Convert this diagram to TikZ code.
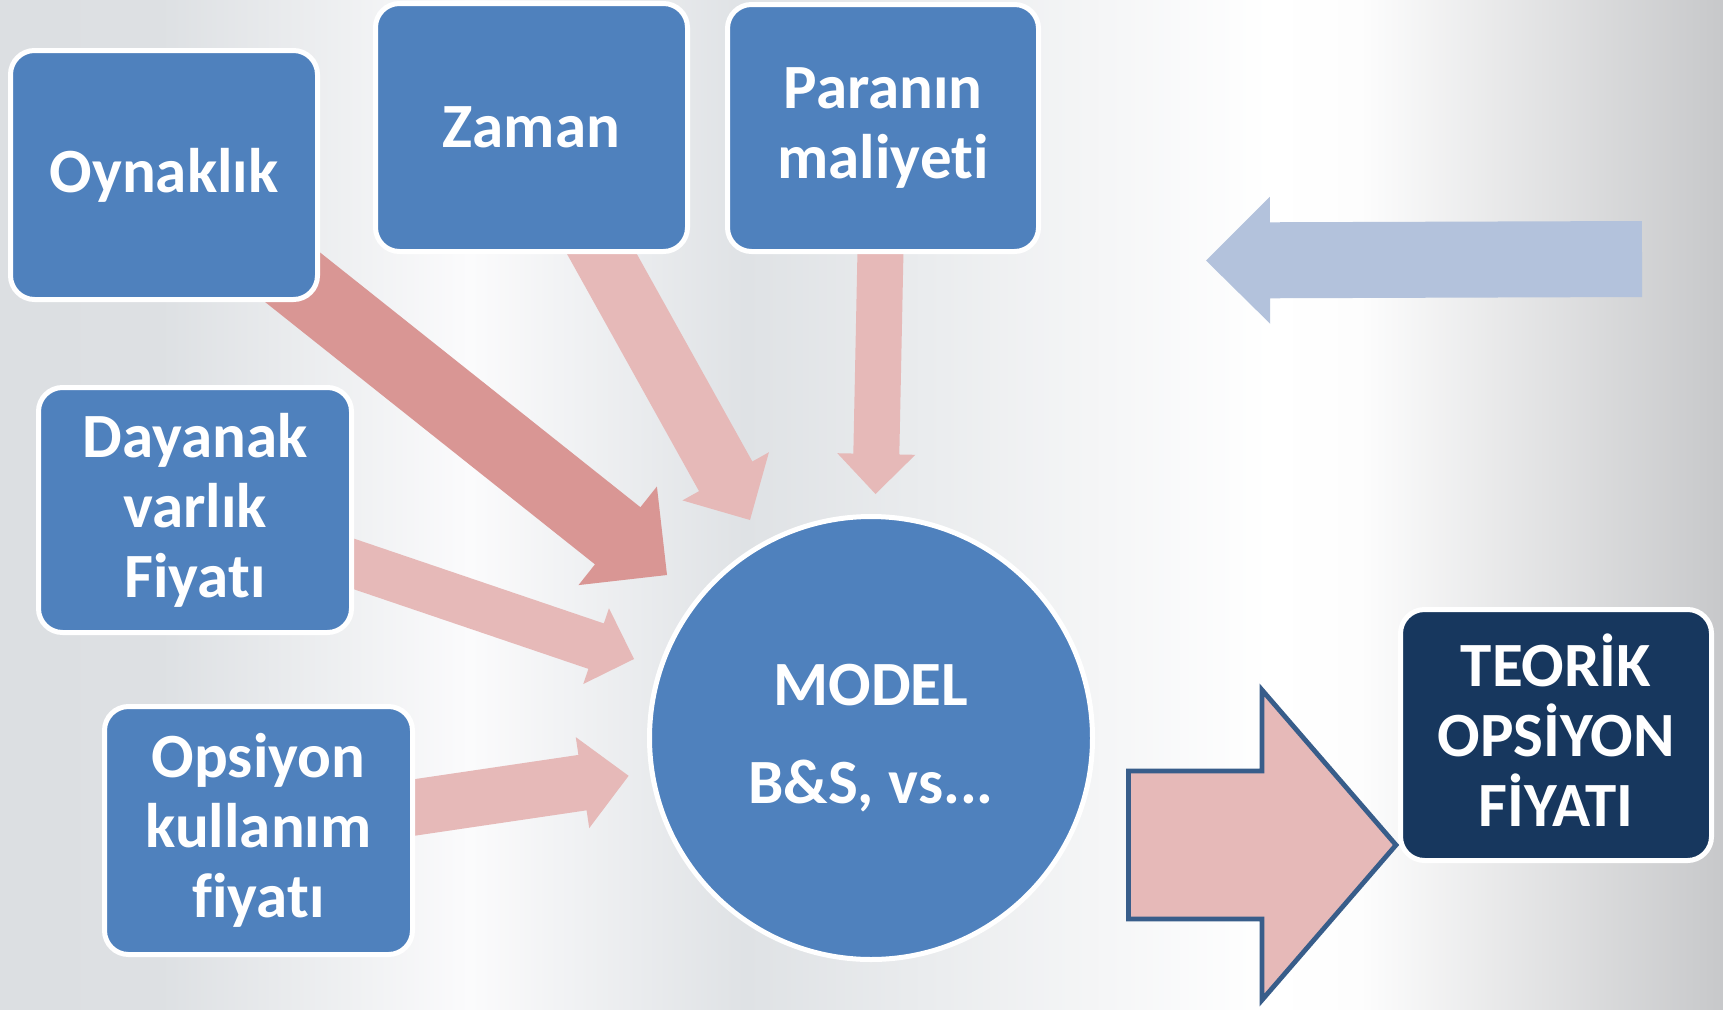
\documentclass[tikz,border=0pt]{standalone}
\usepackage{fontspec}
\setmainfont{Carlito}[Ligatures={NoCommon}]
\usetikzlibrary{calc}
\definecolor{boxblue}{HTML}{4F81BD}
\definecolor{navy}{HTML}{17375E}
\definecolor{pinkd}{HTML}{D99694}
\definecolor{pinkl}{HTML}{E6B9B8}
\definecolor{bluea}{HTML}{B3C2DC}
\definecolor{arrowline}{HTML}{385D8A}
\definecolor{bga}{HTML}{DCDFE2}
\definecolor{bgb}{HTML}{DDE0E3}
\definecolor{bgc}{HTML}{FBFBFC}
\definecolor{bgd}{HTML}{DFE2E5}
\definecolor{bge}{HTML}{FFFFFF}
\definecolor{bgf}{HTML}{FDFDFD}
\definecolor{bgg}{HTML}{C7C8CA}
\pgfdeclarehorizontalshading{bgshade}{100bp}{color(0bp)=(bga); color(25bp)=(bga); color(29.64bp)=(bgb); color(38.64bp)=(bgc); color(46.62bp)=(bgd); color(61.85bp)=(bge); color(64.47bp)=(bgf); color(75bp)=(bgg); color(100bp)=(bgg)}
\pgfdeclarelayer{back}
\pgfdeclarelayer{arrows}
\pgfsetlayers{back,arrows,main}
\newcommand\blockarrow[6]{%
  \coordinate (ba-h) at ($(#2)!#5!(#1)$);
  \path[#6] ($(#1)!#3!90:(#2)$) -- ($(ba-h)!#3!90:(#2)$) -- ($(ba-h)!#4!90:(#2)$) -- (#2)
    -- ($(ba-h)!#4!-90:(#2)$) -- ($(ba-h)!#3!-90:(#2)$) -- ($(#1)!#3!-90:(#2)$) -- cycle;
}
\tikzset{
  box/.style={rectangle, rounded corners=24pt, fill=boxblue, draw=white, line width=5pt,
    text=white, align=center, inner sep=0pt,
    font=\bfseries\fontsize{63}{70}\selectfont},
  modelc/.style={circle, fill=boxblue, draw=white, line width=5pt, text=white,
    align=center, inner sep=0pt, minimum size=443pt,
    font=\bfseries\fontsize{63}{98}\selectfont},
  darkarrow/.style={fill=pinkd},
  lightarrow/.style={fill=pinkl},
  bluearrow/.style={fill=bluea},
  bigarrow/.style={fill=pinkl, draw=arrowline, line width=4.8pt, line join=miter}
}
\begin{document}
\begin{tikzpicture}[x=1pt, y=-1pt]
\useasboundingbox (0,0) rectangle (1723,1009);
\begin{pgfonlayer}{back}
  \shade[shading=bgshade] (0,0) rectangle (1723,1009);
\end{pgfonlayer}

\node[box, minimum width=307pt, minimum height=249pt] (oyn) at (164,175) {Oynaklık};
\node[box, minimum width=312pt, minimum height=248pt] (zam) at (531.5,127.5) {Zaman};
\node[box, minimum width=311pt, minimum height=247pt] (par) at (883,128) {Paranın\\maliyeti};
\node[box, minimum width=313pt, minimum height=245pt] (day) at (195,510) {Dayanak\\varlık\\Fiyatı};
\node[box, minimum width=308pt, minimum height=248pt] (ops) at (258.5,830.5) {Opsiyon\\kullanım\\fiyatı};
\node[modelc] (model) at (871,738) {MODEL\\B\&S, vs...};
\node[box, fill=navy, minimum width=311pt, minimum height=251pt] (teo) at (1556,735) {\parbox{300pt}{\centering TEORİK\\OPSİYON\\FİYATI\par\vspace{10pt}}};

\coordinate (t1) at (667,575);
\coordinate (t2) at (750,520);
\coordinate (t3) at (875.5,494);
\coordinate (t4) at (634,659);
\coordinate (t5) at (628.6,775.8);
\coordinate (ba1) at (1642,259);
\coordinate (ba2) at (1206,260.5);
\coordinate (bb1) at (1128.5,845);
\coordinate (bb2) at (1396,845);

\begin{pgfonlayer}{arrows}
  \blockarrow{oyn.center}{t1}{36.5pt}{63pt}{63pt}{darkarrow}
  \blockarrow{zam.center}{t2}{30.5pt}{49.5pt}{50pt}{lightarrow}
  \blockarrow{par.center}{t3}{23pt}{39pt}{40pt}{lightarrow}
  \blockarrow{day.center}{t4}{24pt}{40pt}{40pt}{lightarrow}
  \blockarrow{ops.center}{t5}{28pt}{46pt}{46.6pt}{lightarrow}
  \blockarrow{ba1}{ba2}{38pt}{63.5pt}{64pt}{bluearrow}
  \blockarrow{bb1}{bb2}{74pt}{155pt}{134pt}{bigarrow}
\end{pgfonlayer}
\end{tikzpicture}
\end{document}
